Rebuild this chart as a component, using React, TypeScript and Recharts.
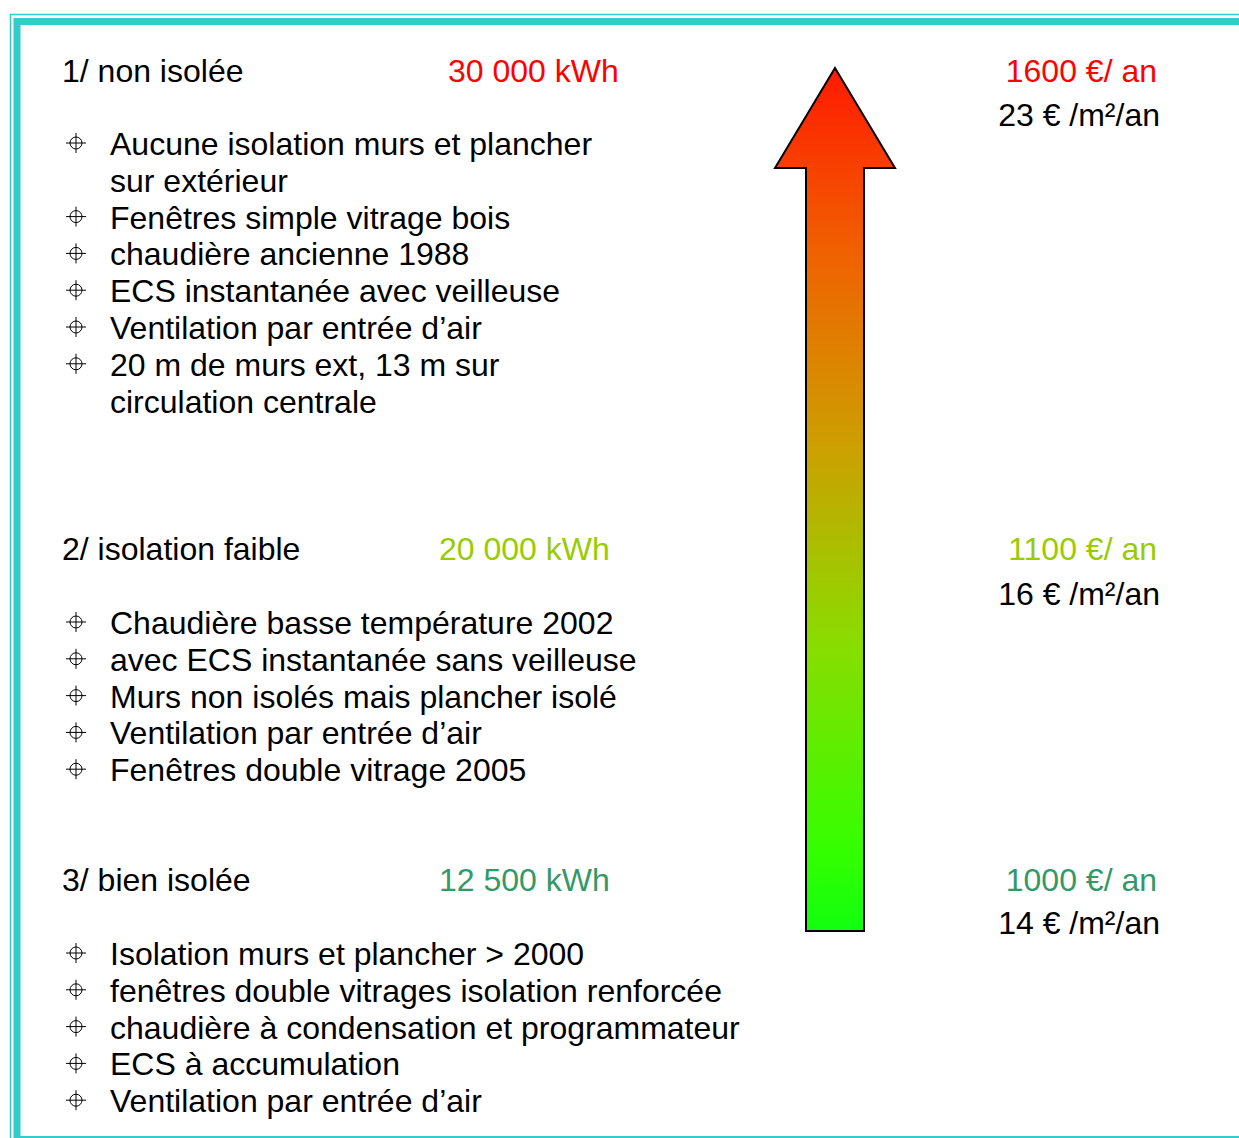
import { ComposedChart, Bar, XAxis, YAxis, Customized } from 'recharts'

// levels of insulation, top to bottom
const levels = ['1/ non isolée', '2/ isolation faible', '3/ bien isolée']
const consumptionKwh = [30000, 20000, 12500]
const costPerYear = [1600, 1100, 1000]
const costPerM2 = [23, 16, 14]
const levelColors = ['#ff0000', '#99cc00', '#339966']

const details: string[][][] = [
  [
    ['Aucune isolation murs et plancher', 'sur extérieur'],
    ['Fenêtres simple vitrage bois'],
    ['chaudière ancienne 1988'],
    ['ECS instantanée avec veilleuse'],
    ['Ventilation par entrée d’air'],
    ['20 m de murs ext, 13 m sur', 'circulation centrale'],
  ],
  [
    ['Chaudière basse température 2002'],
    ['avec ECS instantanée sans veilleuse'],
    ['Murs non isolés mais plancher isolé'],
    ['Ventilation par entrée d’air'],
    ['Fenêtres double vitrage 2005'],
  ],
  [
    ['Isolation murs et plancher > 2000'],
    ['fenêtres double vitrages isolation renforcée'],
    ['chaudière à condensation et programmateur'],
    ['ECS à accumulation'],
    ['Ventilation par entrée d’air'],
  ],
]

const W = 1239
const H = 1138
const FONT = '"Liberation Sans", Arial, sans-serif'
const FS = 32
const LINE = 36.8
const titleBase = [82, 560, 891]
const listBase = [155, 634, 965]
const m2Base = [126, 605, 934]

const arrowData = [{ name: 'kWh', value: Math.max(...consumptionKwh) }]

const fmt = (n: number) => n.toLocaleString('fr-FR').replace(/\s/g, ' ')

function Bullet({ cx, cy }: { cx: number; cy: number }) {
  return (
    <g stroke="#000" strokeWidth={1} fill="none">
      <circle cx={cx} cy={cy} r={6} />
      <line x1={cx - 10} y1={cy} x2={cx + 10} y2={cy} />
      <line x1={cx} y1={cy - 10} x2={cx} y2={cy + 10} />
    </g>
  )
}

function Overlay() {
  return (
    <g fontFamily={FONT} fontSize={FS}>
      {/* double teal frame */}
      <rect x={10.5} y={14.5} width={W} height={H} fill="none" stroke="#33cccc" strokeWidth={1.5} />
      <rect x={17} y={21.5} width={W} height={1118} fill="none" stroke="#33cccc" strokeWidth={7} />

      {levels.map((lvl, i) => {
        let row = 0
        return (
          <g key={lvl}>
            <text x={62} y={titleBase[i]} fill="#000">{lvl}</text>
            <text x={i === 0 ? 448 : 439} y={titleBase[i]} fill={levelColors[i]}>
              {fmt(consumptionKwh[i])} kWh
            </text>
            <text x={1157} y={titleBase[i]} fill={levelColors[i]} textAnchor="end">
              {costPerYear[i]} €/ an
            </text>
            <text x={1160} y={m2Base[i]} fill="#000" textAnchor="end">
              {costPerM2[i]} € /m²/an
            </text>
            {details[i].map((item, j) => {
              const first = row
              row += item.length
              return (
                <g key={j}>
                  <Bullet cx={76} cy={listBase[i] + first * LINE - 12} />
                  {item.map((ln, k) => (
                    <text key={k} x={110} y={listBase[i] + (first + k) * LINE} fill="#000">
                      {ln}
                    </text>
                  ))}
                </g>
              )
            })}
          </g>
        )
      })}
    </g>
  )
}

function ArrowShape(props: any) {
  const { x, y, width, height } = props
  const cx = x + width / 2
  const headH = 100
  const headHalf = 60
  const d = [
    `M${cx},${y}`,
    `L${cx + headHalf},${y + headH}`,
    `L${x + width},${y + headH}`,
    `L${x + width},${y + height}`,
    `L${x},${y + height}`,
    `L${x},${y + headH}`,
    `L${cx - headHalf},${y + headH}`,
    'Z',
  ].join(' ')
  return <path d={d} fill="url(#arrowGrad)" stroke="#000" strokeWidth={2} strokeLinejoin="miter" />
}

export default function App() {
  return (
    <div style={{ position: 'absolute', left: 0, top: 0, width: W, height: H, background: '#fff' }}>
      <ComposedChart
        width={W}
        height={H}
        data={arrowData}
        margin={{ top: 68, right: 304, bottom: 207, left: 735 }}
      >
        <defs>
          <linearGradient id="arrowGrad" x1="0" y1="0" x2="0" y2="1">
            <stop offset="0" stopColor="#ff1a00" />
            <stop offset="0.21" stopColor="#f06000" />
            <stop offset="0.44" stopColor="#cca000" />
            <stop offset="0.67" stopColor="#88dd00" />
            <stop offset="0.91" stopColor="#33ff00" />
            <stop offset="1" stopColor="#11ff11" />
          </linearGradient>
        </defs>
        <XAxis dataKey="name" type="category" hide />
        <YAxis type="number" domain={[0, arrowData[0].value]} hide />
        <Bar dataKey="value" barSize={58} shape={<ArrowShape />} isAnimationActive={false} />
        <Customized component={<Overlay />} />
      </ComposedChart>
    </div>
  )
}
